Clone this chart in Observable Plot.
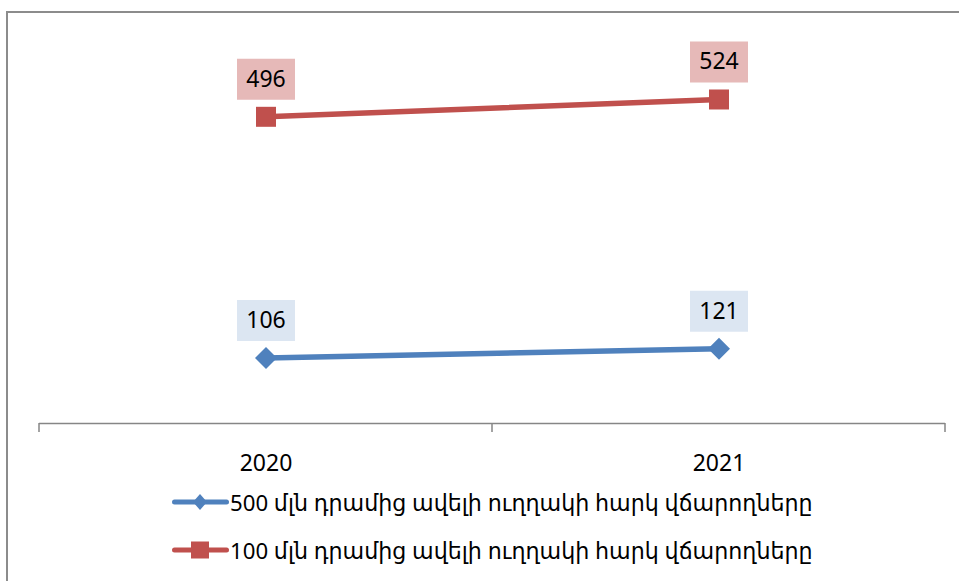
<!DOCTYPE html>
<html>
<head>
<meta charset="utf-8">
<script src="https://cdn.jsdelivr.net/npm/d3@7"></script>
<script src="https://cdn.jsdelivr.net/npm/@observablehq/plot@0.6"></script>
<style>
  html, body { margin: 0; padding: 0; background: #fff; overflow: hidden; }
  body { width: 959px; height: 581px; position: relative; font-family: "Noto Sans", "DejaVu Sans", sans-serif; }
  #frame { position: absolute; left: 6px; top: 11px; width: 2000px; height: 2000px;
           border-left: 2px solid #8c8c8c; border-top: 2px solid #8c8c8c; box-sizing: border-box; }
  #chart { position: absolute; left: 0; top: 0; }
  #legend { position: absolute; left: 0; top: 475px; width: 959px; height: 106px; }
  .item { position: absolute; left: 172px; height: 30px; display: flex; align-items: center;
          font-size: 22.2px; color: #000; white-space: nowrap; }
  .item svg { display: block; margin-right: 1px; }
</style>
</head>
<body>
<div id="frame"></div>
<div id="chart"></div>
<div id="legend"></div>
<script>
// ---- data ----
const years = ["2020", "2021"];
const seriesNames = [
  "500 մլն դրամից ավելի ուղղակի հարկ վճարողները",
  "100 մլն դրամից ավելի ուղղակի հարկ վճարողները"
];
const values500 = [106, 121];
const values100 = [496, 524];
const lineColors = ["#4F81BD", "#C0504D"];
const labelFills = ["#DCE6F2", "#E6B9B8"];

const seriesValues = [values500, values100];

const diamond = {draw(ctx) { ctx.moveTo(0, -11); ctx.lineTo(11, 0); ctx.lineTo(0, 11); ctx.lineTo(-11, 0); ctx.closePath(); }};
const square = {draw(ctx) { ctx.rect(-10, -10, 20, 20); }};
const labelBox = {draw(ctx) { ctx.rect(-29, -20.5, 58, 41); }};
const symbols = [diamond, square];

const marks = [];

// axis baseline
marks.push(Plot.ruleY([0], {stroke: "#868686", strokeWidth: 1.5}));

// category boundary ticks
marks.push((index, scales, values, dimensions) => {
  const {width, marginLeft, marginRight} = dimensions;
  const n = years.length;
  const step = (width - marginLeft - marginRight) / n;
  const y0 = scales.y(0);
  const g = d3.create("svg:g").attr("stroke", "#868686").attr("stroke-width", 1.5);
  for (let i = 0; i <= n; i++) {
    const xx = marginLeft + i * step;
    g.append("line").attr("x1", xx).attr("x2", xx).attr("y1", y0).attr("y2", y0 + 9);
  }
  return g.node();
});

marks.push(Plot.axisX({tickSize: 0, tickPadding: 31, fontSize: 23, fill: "#000", label: null}));

seriesValues.forEach((vals, s) => {
  const rows = years.map((yr, i) => ({year: yr, value: vals[i]}));
  marks.push(Plot.line(rows, {x: "year", y: "value", stroke: lineColors[s], strokeWidth: 5.5}));
  marks.push(Plot.dot(rows, {x: "year", y: "value", symbol: symbols[s], fill: lineColors[s], stroke: "none"}));
  marks.push(Plot.dot(rows, {x: "year", y: "value", symbol: labelBox, fill: labelFills[s], stroke: "none", dy: -37.5}));
  marks.push(Plot.text(rows, {x: "year", y: "value", text: d => String(d.value), dy: -37.5, fontSize: 23, fill: "#000", lineAnchor: "middle"}));
});

const chart = Plot.plot({
  width: 959,
  height: 475,
  marginLeft: 39,
  marginRight: 14,
  marginTop: 52,
  marginBottom: 52,
  style: {background: "transparent", fontFamily: "'Noto Sans', 'DejaVu Sans', sans-serif", overflow: "visible"},
  x: {type: "band", domain: years, padding: 0, axis: null, label: null},
  y: {domain: [0, 600], axis: null},
  marks
});
document.getElementById("chart").appendChild(chart);

// legend
const legend = document.getElementById("legend");
const tops = [12, 60];
seriesNames.forEach((name, s) => {
  const item = document.createElement("div");
  item.className = "item";
  item.style.top = tops[s] + "px";
  const sw = d3.create("svg").attr("width", 57).attr("height", 30);
  sw.append("line").attr("x1", 2.5).attr("x2", 54.5).attr("y1", 15).attr("y2", 15)
    .attr("stroke", lineColors[s]).attr("stroke-width", 5).attr("stroke-linecap", "round");
  if (s === 0) {
    sw.append("path").attr("d", "M28,7L35,15L28,23L21,15Z").attr("fill", lineColors[s]);
  } else {
    sw.append("rect").attr("x", 19).attr("y", 6.5).attr("width", 18).attr("height", 17).attr("fill", lineColors[s]);
  }
  item.appendChild(sw.node());
  const span = document.createElement("span");
  span.textContent = name;
  item.appendChild(span);
  legend.appendChild(item);
});
</script>
</body>
</html>
